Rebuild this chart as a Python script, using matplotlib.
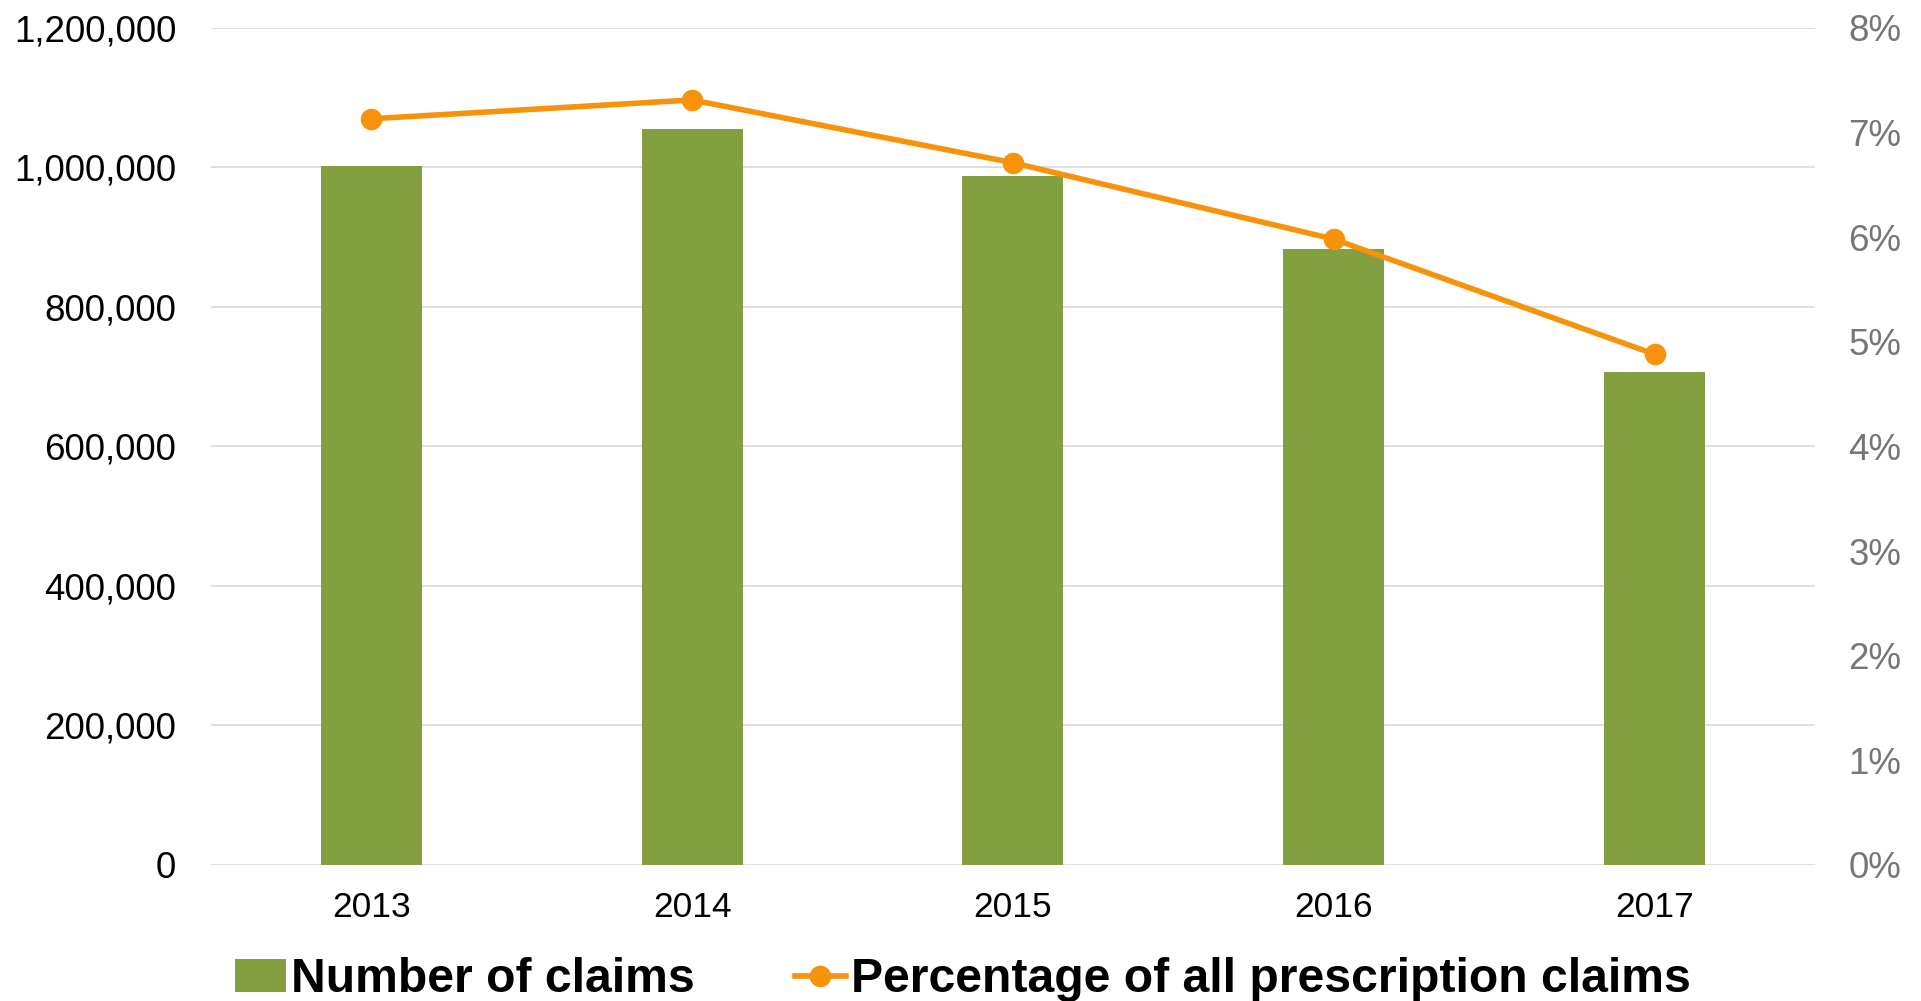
import matplotlib
matplotlib.use("Agg")
import matplotlib.pyplot as plt
from matplotlib.ticker import FuncFormatter, MultipleLocator

plt.rcParams['font.family'] = ['Liberation Sans', 'DejaVu Sans']

years = ["2013", "2014", "2015", "2016", "2017"]
claims = [1002000, 1055000, 988000, 883000, 706000]
share = [0.0713, 0.0731, 0.0671, 0.0598, 0.0488]

green = "#82a03f"
orange = "#f7920b"

fig = plt.figure(figsize=(19.21, 10.01), dpi=100)
ax = fig.add_axes([0.1098, 0.1359, 0.835, 0.8364])

x = range(len(years))
ax.bar(x, claims, width=0.315, color=green, zorder=2, label="Number of claims")
ax.set_xlim(-0.5, 4.5)
ax.set_ylim(0, 1200000)
ax.yaxis.set_major_locator(MultipleLocator(200000))
ax.yaxis.set_major_formatter(FuncFormatter(lambda v, p: f"{v:,.0f}"))
ax.grid(axis="y", color="#d9d9d9", linewidth=1.2, zorder=0)
ax.set_axisbelow(True)
ax.set_xticks(list(x))
ax.set_xticklabels(years)
ax.tick_params(axis="y", length=0, pad=25, labelsize=26.5, labelcolor="black")
ax.tick_params(axis="x", length=0, pad=19, labelsize=25.5, labelcolor="black")
for s in ax.spines.values():
    s.set_visible(False)

ax2 = ax.twinx()
ax2.plot(x, share, color=orange, linewidth=4, marker="o", markersize=14.5,
         label="Percentage of all prescription claims", zorder=3)
ax2.set_ylim(0, 0.08)
ax2.yaxis.set_major_locator(MultipleLocator(0.01))
ax2.yaxis.set_major_formatter(FuncFormatter(lambda v, p: f"{v:.0%}"))
ax2.tick_params(axis="y", length=0, pad=24, labelsize=26.5, labelcolor="#767676")
for s in ax2.spines.values():
    s.set_visible(False)

h1, l1 = ax.get_legend_handles_labels()
h2, l2 = ax2.get_legend_handles_labels()
fig.legend(h1 + h2, l1 + l2, loc="center left", bbox_to_anchor=(235 / 1921, 0.021),
           ncol=2, frameon=False, borderpad=0, borderaxespad=0,
           handlelength=1.05, handletextpad=0.12, columnspacing=2.07,
           prop={"size": 34.7, "weight": "bold"})

fig.savefig("out.png", dpi=100)
